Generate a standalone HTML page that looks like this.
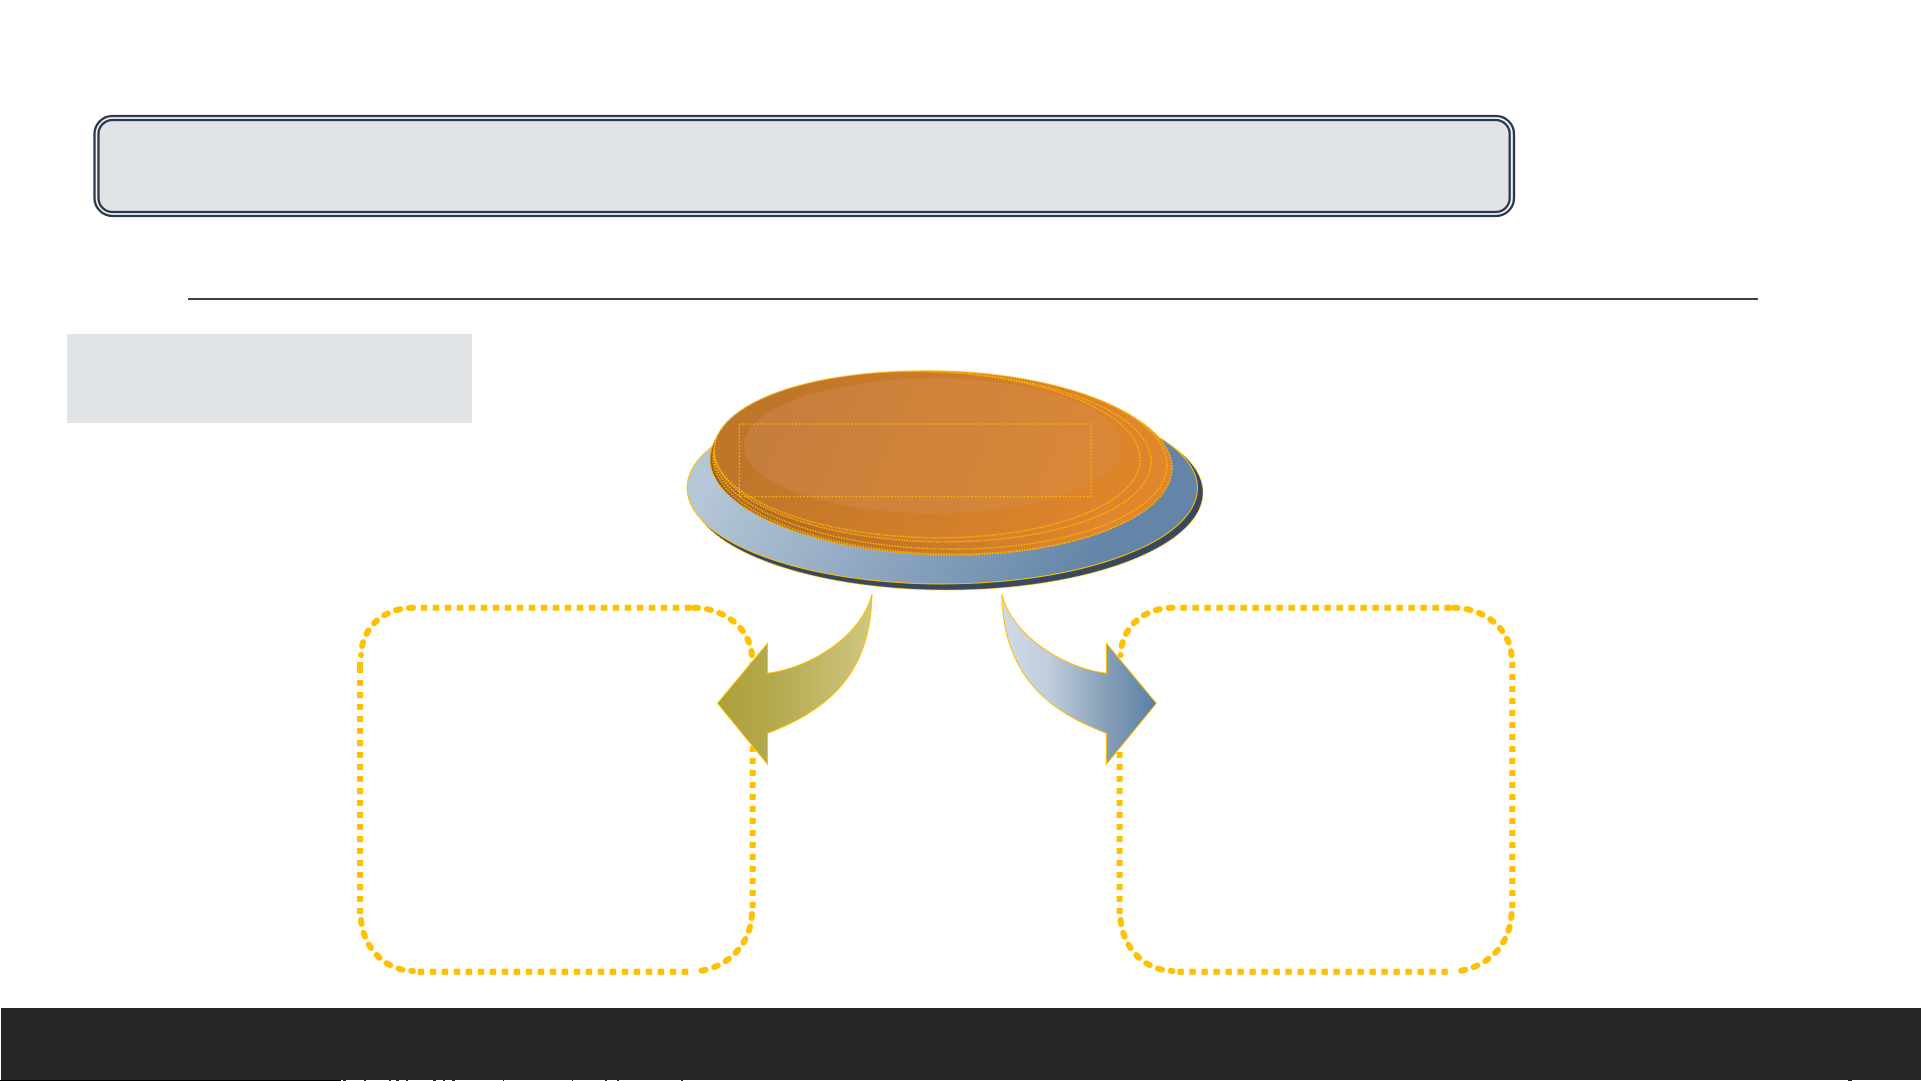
<!DOCTYPE html>
<html><head><meta charset="utf-8"><style>
html,body{margin:0;padding:0;background:#fff;width:1921px;height:1081px;overflow:hidden}
svg{display:block}
</style></head><body>
<svg width="1921" height="1081" viewBox="0 0 1921 1081" xmlns="http://www.w3.org/2000/svg">
<defs>
<linearGradient id="blue" gradientUnits="userSpaceOnUse" x1="760" y1="400" x2="1080" y2="590"><stop offset="0" stop-color="#b5c6d7"/><stop offset="1" stop-color="#6485a8"/></linearGradient>
<linearGradient id="or" gradientUnits="userSpaceOnUse" x1="780" y1="390" x2="1080" y2="540"><stop offset="0" stop-color="#bf7629"/><stop offset="1" stop-color="#de842b"/></linearGradient>
<linearGradient id="or2" gradientUnits="userSpaceOnUse" x1="780" y1="440" x2="1100" y2="520"><stop offset="0" stop-color="#b06b26"/><stop offset="1" stop-color="#e0862c"/></linearGradient>
<linearGradient id="dk" gradientUnits="userSpaceOnUse" x1="720" y1="420" x2="780" y2="520"><stop offset="0" stop-color="#bc7428"/><stop offset=".5" stop-color="#8a5820"/><stop offset="1" stop-color="#a86a24"/></linearGradient>
<linearGradient id="hl" gradientUnits="userSpaceOnUse" x1="780" y1="390" x2="1080" y2="510"><stop offset="0" stop-color="#c67e3c"/><stop offset="1" stop-color="#da8838"/></linearGradient>
<linearGradient id="ol" gradientUnits="userSpaceOnUse" x1="717" y1="0" x2="872" y2="0"><stop offset="0" stop-color="#aca03a"/><stop offset=".35" stop-color="#b4a94c"/><stop offset="1" stop-color="#cfc783"/></linearGradient>
<linearGradient id="bl" gradientUnits="userSpaceOnUse" x1="1002" y1="0" x2="1156" y2="0"><stop offset="0" stop-color="#d0dae5"/><stop offset=".3" stop-color="#c0cedd"/><stop offset=".65" stop-color="#8aa2ba"/><stop offset="1" stop-color="#5b7fa4"/></linearGradient>
<g id="box" fill="none" stroke="#ffc000" stroke-width="6">
<path d="M420.8 607.7H691.2" stroke-dasharray="6.4 5.6"/>
<path d="M417.8 971.7H688.2" stroke-dasharray="6.4 5.6"/>
<path d="M360 680V914" stroke-dasharray="6 6"/>
<path d="M360 662V673"/>
<path d="M752.7 662V908" stroke-dasharray="6 6"/>
<g stroke-linecap="round" stroke-dasharray="4 9">
<path d="M413 607.7C383 608 362 628 361 655"/>
<path d="M694 607.7C724 608 750 628 752 656"/>
<path d="M361 920C364 948 384 970 413 971"/>
<path d="M752 914C750 948 724 970 693 971.7"/>
</g>
</g>
</defs>

<rect x="94.5" y="116" width="1419.5" height="100" rx="18" ry="18" fill="#f1f3f4" stroke="#2a3a4b" stroke-width="2.3"/>
<rect x="98.5" y="120" width="1411.2" height="92" rx="14" ry="14" fill="#e0e4e7" stroke="#2a3a4b" stroke-width="2.3"/>

<rect x="188" y="298" width="1570" height="2" fill="#404040"/>
<rect x="67" y="334" width="405" height="89" fill="#e0e4e7"/>

<use href="#box"/>
<use href="#box" x="759.6"/>

<path d="M872 594C862 636 810 668 767.5 673.3V643.3L717.5 703.3L767.5 764.3V733.3C820 713 871 680 872 594Z" fill="url(#ol)" stroke="#ffc000" stroke-width="1"/>
<path d="M1001.8 594C1012 636 1064 668 1106.4 673.3V643.3L1156.4 703.3L1106.4 764.3V733.3C1054 713 1003 680 1001.8 594Z" fill="url(#bl)" stroke="#ffc000" stroke-width="1"/>

<ellipse cx="947" cy="492.5" rx="256" ry="97.5" fill="#36495f" stroke="#ffc000" stroke-width="1" stroke-dasharray="1.5 1.5"/>
<ellipse cx="942.3" cy="488" rx="255.2" ry="96" fill="url(#blue)" stroke="#ffc000" stroke-width="1"/>

<g stroke="#ffb800" stroke-width="1.4" stroke-dasharray="1.5 1.2">
<ellipse cx="940" cy="464" rx="230" ry="91" transform="rotate(1.5 942 463)" fill="url(#dk)"/>
<ellipse cx="942.5" cy="463" rx="229.5" ry="91" transform="rotate(1.5 942 463)" fill="url(#or2)"/>
<ellipse cx="940.5" cy="460" rx="226.5" ry="89" transform="rotate(1.5 942 463)" fill="url(#or2)"/>
<ellipse cx="932.5" cy="457" rx="218.5" ry="85" transform="rotate(1.5 942 463)" fill="url(#or)"/>
<ellipse cx="927" cy="455" rx="213" ry="83" transform="rotate(1.5 942 463)" fill="url(#or)"/>
</g>
<ellipse cx="932.9" cy="445.8" rx="189" ry="67.5" fill="url(#hl)"/>
<rect x="739.3" y="424" width="351.7" height="72.7" fill="none" stroke="#ffc000" stroke-width="1.2" stroke-dasharray="1.5 2"/>

<rect x="1" y="1008" width="1920" height="72" fill="#262626"/>
<rect x="0" y="1080" width="341" height="1" fill="#000"/>
<rect x="341" y="1080" width="1580" height="1" fill="#fff"/>
<g fill="#222">
<rect x="343" y="1080" width="3" height="1"/><rect x="364" y="1080" width="2" height="1"/><rect x="389" y="1080" width="2" height="1"/><rect x="396" y="1080" width="3" height="1"/><rect x="406" y="1080" width="2" height="1"/><rect x="433" y="1080" width="3" height="1"/><rect x="443" y="1080" width="2" height="1"/><rect x="452" y="1080" width="3" height="1"/><rect x="503" y="1080" width="1" height="1"/><rect x="572" y="1080" width="1" height="1"/><rect x="605" y="1080" width="2" height="1"/><rect x="617" y="1080" width="2" height="1"/><rect x="681" y="1080" width="2" height="1"/><rect x="1848" y="1080" width="4" height="1"/>
</g>
</svg>
</body></html>
